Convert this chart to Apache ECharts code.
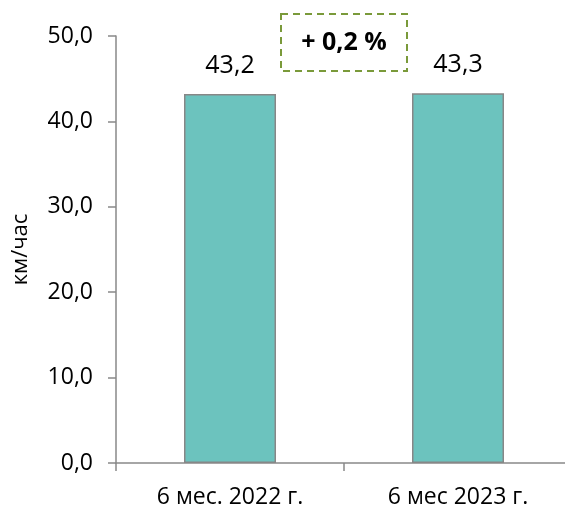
<!DOCTYPE html>
<html><head><meta charset="utf-8">
<script src="https://cdn.jsdelivr.net/npm/echarts@6/dist/echarts.min.js"></script>
<style>html,body{margin:0;padding:0;background:#fff}#c{width:565px;height:509px}</style>
</head><body><div id="c"></div>
<script>
const categories = ['6 мес. 2022 г.', '6 мес 2023 г.'];
const speedValues = [43.2, 43.3];
const yTicks = [0, 10, 20, 30, 40, 50];
const axisTitle = 'км/час';
const changeLabel = '+ 0,2 %';

const fmt = v => v.toFixed(1).replace('.', ',');
const FONT = '"Open Sans", sans-serif';
const catPos = categories.map((c, i) => i + 0.5);
const AXIS_LEFT = 116, BAND = 228, W = 565;
const chart = echarts.init(document.getElementById('c'), null, {renderer: 'canvas'});
chart.setOption({
  animation: false,
  grid: {left: AXIS_LEFT, right: 0, top: 36, bottom: 46, containLabel: false},
  xAxis: {
    type: 'value', min: 0, max: (W - AXIS_LEFT) / BAND,
    splitLine: {show: false},
    axisLine: {show: true, lineStyle: {color: '#898989', width: 1.5}},
    axisTick: {show: true, length: 8, customValues: categories.map((c, i) => i), lineStyle: {color: '#898989', width: 1.5}},
    axisLabel: {color: '#000', fontFamily: FONT, fontSize: 23, margin: 23, customValues: catPos,
      formatter: v => categories[Math.round(v - 0.5)] || ''}
  },
  yAxis: {
    type: 'value', min: yTicks[0], max: yTicks[yTicks.length - 1], interval: 10,
    name: axisTitle, nameLocation: 'middle', nameGap: 84, nameRotate: 90,
    nameTextStyle: {color: '#000', fontFamily: FONT, fontSize: 22},
    axisLine: {show: true, lineStyle: {color: '#898989', width: 1.5}},
    axisTick: {show: true, length: 8, lineStyle: {color: '#898989', width: 1.5}},
    splitLine: {show: false},
    axisLabel: {color: '#000', fontFamily: FONT, fontSize: 23, margin: 23, formatter: v => fmt(v)}
  },
  series: [{
    type: 'bar', data: speedValues.map((v, i) => [catPos[i], v]), barWidth: 92,
    itemStyle: {color: '#6cc3be', borderColor: '#878787', borderWidth: 1.5},
    label: {show: true, position: 'top', distance: 16, color: '#000', fontFamily: FONT, fontSize: 25, formatter: p => fmt(p.value[1])}
  }],
  graphic: [
    {type: 'rect', shape: {x: 281, y: 14, width: 126, height: 57},
     style: {fill: 'none', stroke: '#7a9a3a', lineWidth: 2, lineDash: [7, 5]}},
    {type: 'text', x: 344, y: 43, style: {text: changeLabel, fill: '#000', font: 'bold 25px "Open Sans", sans-serif', textAlign: 'center', textVerticalAlign: 'middle'}}
  ]
});
</script></body></html>
